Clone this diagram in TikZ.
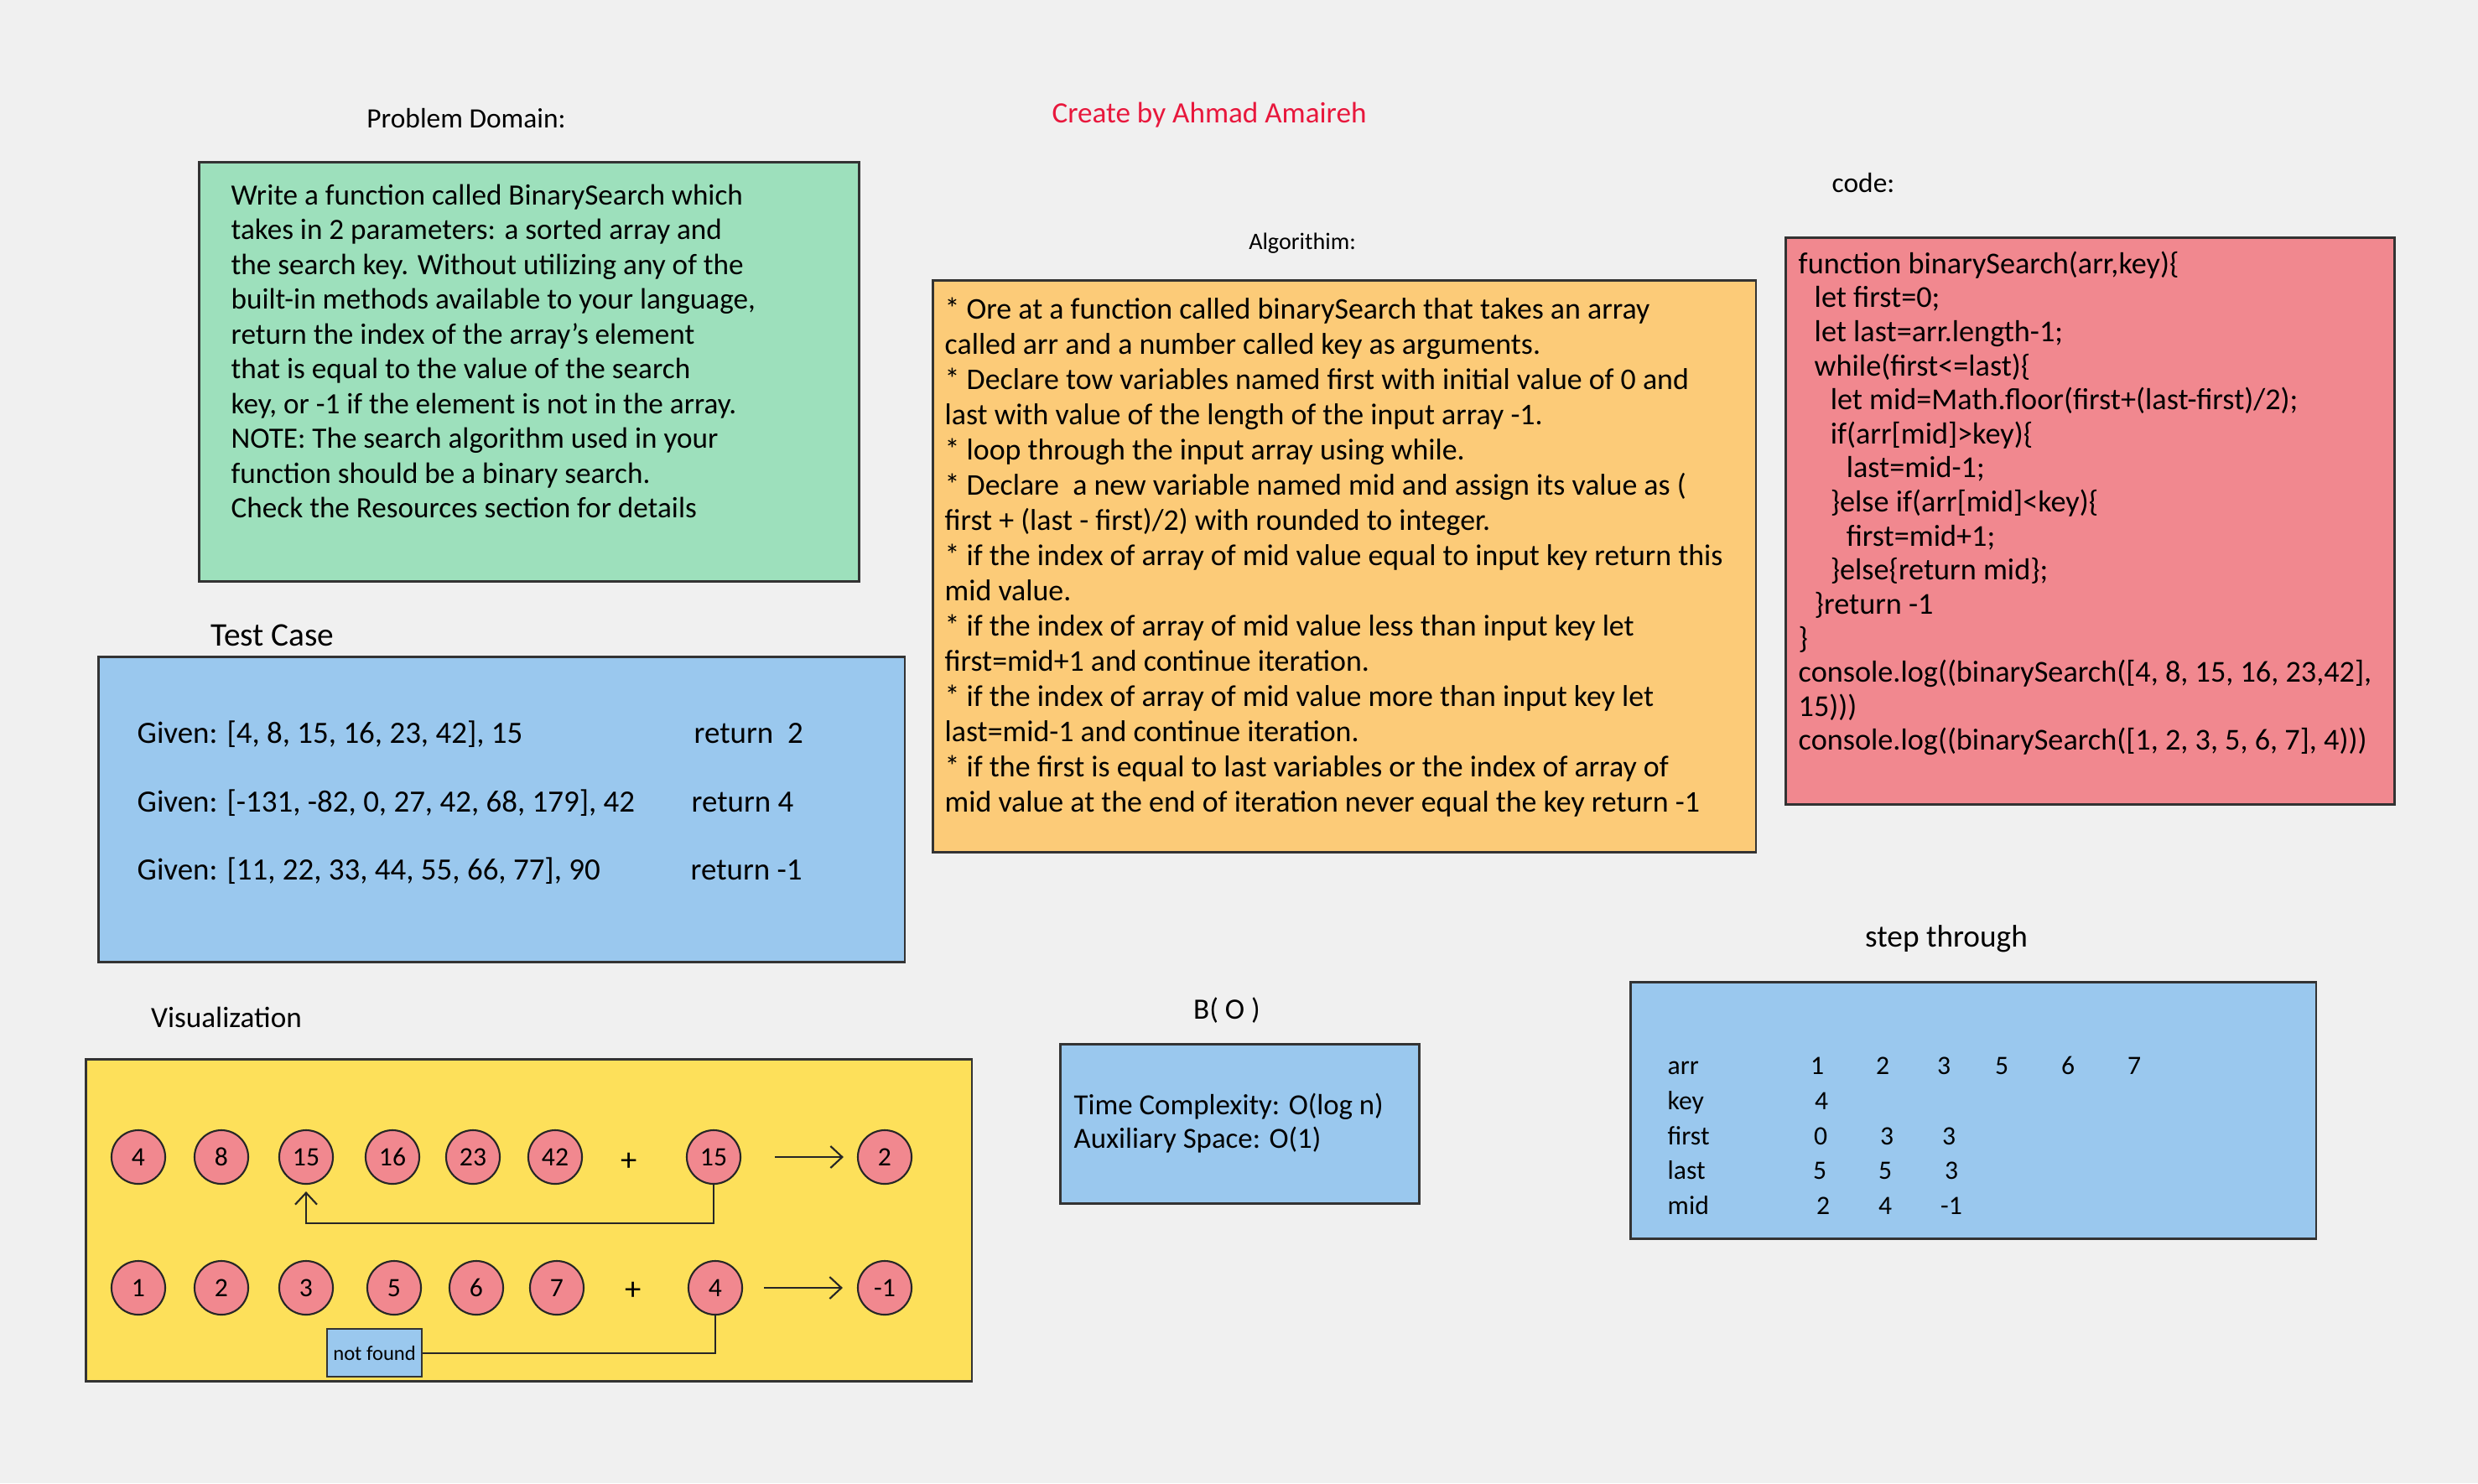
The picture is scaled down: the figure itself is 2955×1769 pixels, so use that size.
\documentclass[tikz,border=0pt]{standalone}
\usepackage{fontspec}
\setmainfont{Carlito}
\usetikzlibrary{positioning, arrows.meta, shapes.geometric}

\definecolor{bgcol}{HTML}{F0F0F0}
\definecolor{mintfill}{HTML}{9DE0BC}
\definecolor{orangefill}{HTML}{FCCB78}
\definecolor{pinkfill}{HTML}{F1888F}
\definecolor{skyfill}{HTML}{9AC8EE}
\definecolor{sunfill}{HTML}{FDE05A}
\definecolor{authorred}{HTML}{E8173C}

\begin{document}
\begin{tikzpicture}[
    x=0.01cm, y=-0.01cm,
    font=\fontsize{10.5}{12}\selectfont,
    panel/.style={rectangle, draw=black!80, line width=0.8pt, anchor=north west, inner sep=0pt},
    heading/.style={font=\fontsize{9.5}{12}\selectfont, inner sep=0pt},
    body/.style={anchor=north west, align=left, inner sep=0pt},
    item/.style={circle, draw=black!85, fill=pinkfill, line width=0.6pt, minimum size=0.64cm, inner sep=0pt,
                 font=\fontsize{9}{11}\selectfont},
    arrow/.style={-{Straight Barb[length=1.4mm, width=2.6mm]}, line width=0.6pt, draw=black!85},
    link/.style={line width=0.6pt, draw=black!85},
    cell/.style={anchor=base, inner sep=0pt, font=\fontsize{9}{11}\selectfont},
    rowlabel/.style={anchor=base west, inner sep=0pt},
    % Colores de los paneles
    mint/.style={fill=mintfill},
    orange/.style={fill=orangefill},
    pink/.style={fill=pinkfill},
    sky/.style={fill=skyfill},
    sun/.style={fill=sunfill}
]
\fill[bgcol] (0,0) rectangle (2955,1769);
\useasboundingbox (0,0) rectangle (2955,1769);

% --- Paneles ---
\node[panel, mint, minimum width=7.87cm, minimum height=5.00cm] (domainbox) at (236,192) {};
\node[panel, orange, minimum width=9.81cm, minimum height=6.82cm] (algobox) at (1111,333) {};
\node[panel, pink, minimum width=7.26cm, minimum height=6.76cm] (codebox) at (2128,282) {};
\node[panel, sky, minimum width=9.61cm, minimum height=3.64cm] (testbox) at (116,782) {};
\node[panel, sun, minimum width=10.56cm, minimum height=3.84cm] (vizbox) at (101,1262) {};
\node[panel, sky, minimum width=4.28cm, minimum height=1.90cm] (bigobox) at (1263,1244) {};
\node[panel, sky, minimum width=8.17cm, minimum height=3.06cm] (stepbox) at (1943,1170) {};

% --- Titulos ---
\node[heading] (domaintitle) at (556,141) {Problem Domain:};
\node[heading, text=authorred, font=\fontsize{10}{12}\selectfont] (author) at (1442,137) {Create by Ahmad Amaireh};
\node[heading, font=\fontsize{8}{9}\selectfont] (algotitle) at (1553,290) {Algorithim:};
\node[heading] (codetitle) at (2222,218) {code:};
\node[heading, font=\fontsize{11.2}{12}\selectfont] (testtitle) at (325,758) {Test Case};
\node[heading, font=\fontsize{10}{12}\selectfont] (viztitle) at (270,1213) {Visualization};
\node[heading, font=\fontsize{10}{12}\selectfont] (bigotitle) at (1463,1205) {B( O )};
\node[heading, font=\fontsize{10.6}{12}\selectfont] (steptitle) at (2321,1120) {step through};

% --- Textos ---
\node[body, font=\fontsize{10}{11.8}\selectfont] (domaintext) at (275,219) {Write a function called BinarySearch which\\
takes in 2 parameters: a sorted array and\\
the search key. Without utilizing any of the\\
built-in methods available to your language,\\
return the index of the array’s element\\
that is equal to the value of the search\\
key, or -1 if the element is not in the array.\\
NOTE: The search algorithm used in your\\
function should be a binary search.\\
Check the Resources section for details};

\node[body, font=\fontsize{10.2}{11.95}\selectfont] (algotext) at (1126,354) {* Ore at a function called binarySearch that takes an array\\
called arr and a number called key as arguments.\\
* Declare tow variables named first with initial value of 0 and\\
last with value of the length of the input array -1.\\
* loop through the input array using while.\\
* Declare \ a new variable named mid and assign its value as (\\
first + (last - first)/2) with rounded to integer.\\
* if the index of array of mid value equal to input key return this\\
mid value.\\
* if the index of array of mid value less than input key let\\
first=mid+1 and continue iteration.\\
* if the index of array of mid value more than input key let\\
last=mid-1 and continue iteration.\\
* if the first is equal to last variables or the index of array of\\
mid value at the end of iteration never equal the key return -1};

\node[body, font=\fontsize{10.3}{11.55}\selectfont] (codetext) at (2144,299) {function binarySearch(arr,key)\{\\
\hspace*{0.19cm}let first=0;\\
\hspace*{0.19cm}let last=arr.length-1;\\
\hspace*{0.19cm}while(first<=last)\{\\
\hspace*{0.38cm}let mid=Math.floor(first+(last-first)/2);\\
\hspace*{0.38cm}if(arr[mid]>key)\{\\
\hspace*{0.57cm}last=mid-1;\\
\hspace*{0.38cm}\}else if(arr[mid]<key)\{\\
\hspace*{0.57cm}first=mid+1;\\
\hspace*{0.38cm}\}else\{return mid\};\\
\hspace*{0.19cm}\}return -1\\
\}\\
console.log((binarySearch([4, 8, 15, 16, 23,42],\\
15)))\\
console.log((binarySearch([1, 2, 3, 5, 6, 7], 4)))};

% --- Casos de prueba ---
\node[rowlabel] (givena) at (163,886) {Given: [4, 8, 15, 16, 23, 42], 15};
\node[rowlabel] (givenb) at (163,968) {Given: [-131, -82, 0, 27, 42, 68, 179], 42};
\node[rowlabel] (givenc) at (163,1049) {Given: [11, 22, 33, 44, 55, 66, 77], 90};
\node[rowlabel] (returna) at (827,886) {return \ 2};
\node[rowlabel] (returnb) at (824,968) {return 4};
\node[rowlabel] (returnc) at (823,1049) {return -1};

% --- Visualizacion: primera fila ---
\node[item] (a4) at (165,1380) {4};
\node[item] (a8) at (264,1380) {8};
\node[item] (a15) at (365,1380) {15};
\node[item] (a16) at (468,1380) {16};
\node[item] (a23) at (564,1380) {23};
\node[item] (a42) at (662,1380) {42};
\node[font=\fontsize{11}{12}\selectfont] (plusa) at (750,1386) {+};
\node[item] (keya) at (851,1380) {15};
\node[item] (resa) at (1055,1380) {2};

% --- Visualizacion: segunda fila ---
\node[item] (b1) at (165,1536) {1};
\node[item] (b2) at (264,1536) {2};
\node[item] (b3) at (365,1536) {3};
\node[item] (b5) at (470,1536) {5};
\node[item] (b6) at (568,1536) {6};
\node[item] (b7) at (664,1536) {7};
\node[font=\fontsize{11}{12}\selectfont] (plusb) at (755,1540) {+};
\node[item] (keyb) at (853,1536) {4};
\node[item] (resb) at (1055,1536) {-1};
\node[panel, sky, line width=0.6pt, minimum width=1.13cm, minimum height=0.57cm,
      font=\fontsize{7}{8}\selectfont] (notfound) at (389,1584) {not found};

% --- Flechas ---
\draw[arrow, shorten <=0.4cm, shorten >=0.16cm] (keya) -- (resa);
\draw[arrow, shorten <=0.25cm, shorten >=0.17cm] (keyb) -- (resb);
\draw[arrow, shorten >=0.08cm] (keya.south) -- ++(0,46) -| (a15.south);
\draw[link] (keyb.south) |- (notfound.east);

% --- Complejidad ---
\node[body, font=\fontsize{9.9}{11.6}\selectfont] (bigotext) at (1280,1303) {Time Complexity: O(log n)\\
Auxiliary Space: O(1)};

% --- Paso a paso ---
\node[rowlabel, font=\fontsize{9}{11}\selectfont] (arrrow) at (1988,1281) {arr};
\node[rowlabel, font=\fontsize{9}{11}\selectfont] (keyrow) at (1988,1323) {key};
\node[rowlabel, font=\fontsize{9}{11}\selectfont] (firstrow) at (1988,1365) {first};
\node[rowlabel, font=\fontsize{9}{11}\selectfont] (lastrow) at (1988,1406) {last};
\node[rowlabel, font=\fontsize{9}{11}\selectfont] (midrow) at (1988,1448) {mid};

\node[cell] (arr1) at (2167,1281) {1};
\node[cell] (arr2) at (2245,1281) {2};
\node[cell] (arr3) at (2318,1281) {3};
\node[cell] (arr4) at (2387,1281) {5};
\node[cell] (arr5) at (2466,1281) {6};
\node[cell] (arr6) at (2545,1281) {7};
\node[cell] (key1) at (2172,1323) {4};
\node[cell] (first1) at (2171,1365) {0};
\node[cell] (first2) at (2250,1365) {3};
\node[cell] (first3) at (2324,1365) {3};
\node[cell] (last1) at (2170,1406) {5};
\node[cell] (last2) at (2248,1406) {5};
\node[cell] (last3) at (2327,1406) {3};
\node[cell] (mid1) at (2174,1448) {2};
\node[cell] (mid2) at (2248,1448) {4};
\node[cell] (mid3) at (2327,1448) {-1};
\end{tikzpicture}
\end{document}
